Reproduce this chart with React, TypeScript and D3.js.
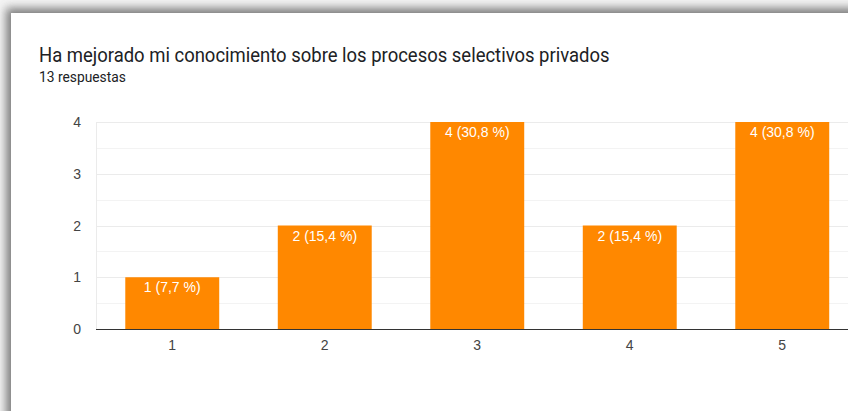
import React from "react";
import * as d3 from "d3";

const categories = ["1", "2", "3", "4", "5"];
const counts = [1, 2, 4, 2, 4];
const percentLabels = ["7,7 %", "15,4 %", "30,8 %", "15,4 %", "30,8 %"];
const yTicks = [0, 1, 2, 3, 4];
const yMinorTicks = [0.5, 1.5, 2.5, 3.5];
const title = "Ha mejorado mi conocimiento sobre los procesos selectivos privados";
const subtitle = "13 respuestas";

const W = 848;
const H = 411;
const FONT = "Roboto, Arial, sans-serif";
const CHART_FONT = "'Liberation Sans', Arial, sans-serif";

export default function App() {
  const plotLeft = 96;
  const plotRight = 858.5;
  const plotTop = 122;
  const plotBottom = 329;

  const x = d3.scaleBand<string>().domain(categories).range([plotLeft, plotRight]).paddingInner(0.384).paddingOuter(0.192);
  const y = d3.scaleLinear().domain([0, 4]).range([plotBottom, plotTop]);

  return (
    <svg width={W} height={H} style={{ position: "fixed", left: 0, top: 0, display: "block" }}>
      <defs>
        <filter id="shadow" x="-10%" y="-10%" width="130%" height="130%">
          <feGaussianBlur stdDeviation="5" />
        </filter>
      </defs>
      <rect x={0} y={0} width={W} height={H} fill="#f4f4f4" />
      <rect x={6} y={8} width={W + 50} height={H + 50} fill="#555" filter="url(#shadow)" opacity={0.75} />
      <rect x={11} y={13} width={W + 50} height={H + 50} fill="#ffffff" />

      <g transform="translate(39,61.5) scale(0.88,1)">
        <text x={0} y={0} fontFamily={FONT} fontSize={21} fill="#202124">{title}</text>
      </g>
      <text x={39} y={82} fontFamily={FONT} fontSize={13.8} fill="#202124">{subtitle}</text>

      {yMinorTicks.map((t) => (
        <line key={"m" + t} x1={plotLeft} x2={W} y1={Math.round(y(t)) + 0.5} y2={Math.round(y(t)) + 0.5} stroke="#f3f3f3" />
      ))}
      {yTicks.filter((t) => t > 0).map((t) => (
        <line key={"g" + t} x1={plotLeft} x2={W} y1={Math.round(y(t)) + 0.5} y2={Math.round(y(t)) + 0.5} stroke="#ebebeb" />
      ))}
      <line x1={plotLeft + 0.5} x2={plotLeft + 0.5} y1={plotTop} y2={plotBottom} stroke="#ebebeb" />

      {categories.map((c, i) => (
        <g key={c}>
          <rect x={x(c)} y={y(counts[i])} width={x.bandwidth()} height={plotBottom - y(counts[i])} fill="#ff8800" />
          <text x={(x(c) as number) + x.bandwidth() / 2} y={y(counts[i]) + 15} textAnchor="middle" fontFamily={CHART_FONT} fontSize={14} fill="#ffffff">
            {`${counts[i]} (${percentLabels[i]})`}
          </text>
          <text x={(x(c) as number) + x.bandwidth() / 2} y={plotBottom + 21} textAnchor="middle" fontFamily={CHART_FONT} fontSize={14} fill="#444444">
            {c}
          </text>
        </g>
      ))}

      <line x1={plotLeft} x2={W} y1={plotBottom + 0.5} y2={plotBottom + 0.5} stroke="#333333" />

      {yTicks.map((t) => (
        <text key={"y" + t} x={81} y={y(t) + 5} textAnchor="end" fontFamily={CHART_FONT} fontSize={14} fill="#444444">{t}</text>
      ))}
    </svg>
  );
}
